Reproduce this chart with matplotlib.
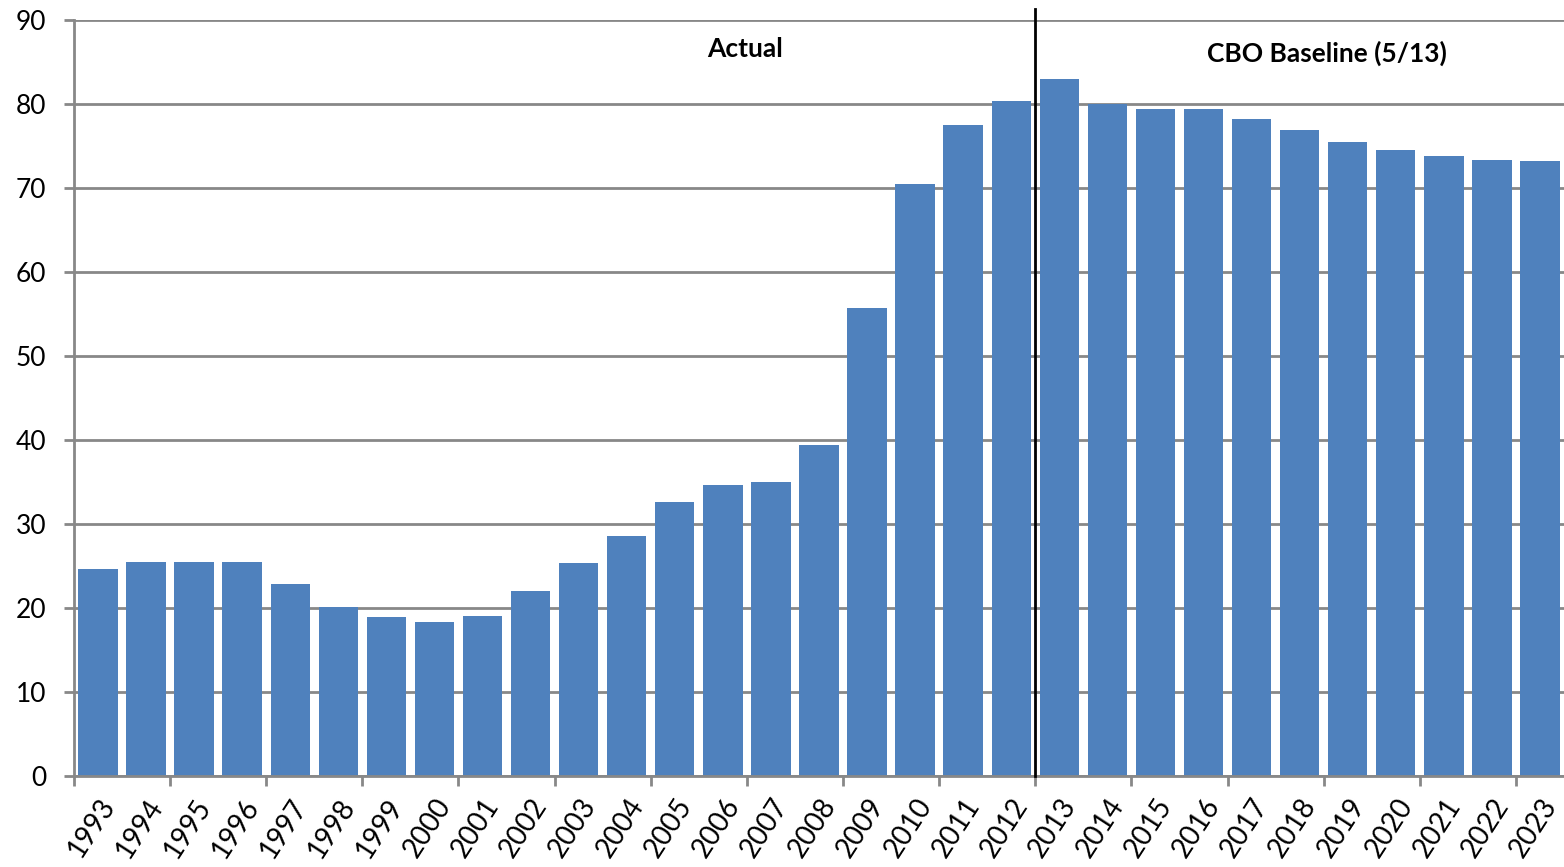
import numpy as np
import matplotlib
matplotlib.use("Agg")
import matplotlib.pyplot as plt

plt.rcParams['font.family'] = ['Lato', 'DejaVu Sans']

years = [str(y) for y in range(1993, 2024)]
values = [24.6, 25.5, 25.5, 25.5, 22.9, 20.1, 18.9, 18.3, 19.0, 22.0,
          25.4, 28.6, 32.6, 34.6, 35.0, 39.4, 55.7, 70.5, 77.5, 80.4,
          83.0, 80.0, 79.4, 79.4, 78.2, 76.9, 75.5, 74.5, 73.8, 73.3, 73.2]
yticks = [0, 10, 20, 30, 40, 50, 60, 70, 80, 90]
split_after = "2012"

grid_color = "#888888"
bar_color = "#4F81BD"

fig = plt.figure(figsize=(15.64, 8.67), dpi=100)
ax = fig.add_axes([0.0473, 0.105, 0.9527, 0.872])

x = np.arange(len(years))
ax.bar(x, values, width=0.82, color=bar_color, zorder=3)

ax.set_xlim(-0.5, len(years) - 0.5)
ax.set_ylim(0, 90)
ax.set_yticks(yticks)
ax.set_yticklabels([str(v) for v in yticks], fontsize=19)
ax.yaxis.grid(True, color=grid_color, linewidth=2, zorder=0)
ax.tick_params(axis='y', length=7, width=2, color=grid_color, pad=13)

# year labels at bar centres, tick marks on every second category boundary
ax.set_xticks(x)
ax.set_xticklabels(years, rotation=57, ha='right', va='top',
                   rotation_mode='anchor', fontsize=20)
ax.tick_params(axis='x', which='major', length=0, pad=13)
ax.set_xticks(np.arange(-0.5, len(years), 2), minor=True)
ax.tick_params(axis='x', which='minor', length=7, width=2, color=grid_color)

for side in ['top', 'right']:
    ax.spines[side].set_visible(False)
for side in ['left', 'bottom']:
    ax.spines[side].set_color(grid_color)
    ax.spines[side].set_linewidth(2)
ax.spines['bottom'].set_zorder(4)

# divider between actual and projected years
split_x = years.index(split_after) + 0.5
ax.plot([split_x, split_x], [0, 91.3], color='black', linewidth=2,
        clip_on=False, zorder=5)

ax.text(13.46, 86.5, "Actual", ha='center', va='center', fontsize=19,
        fontweight='bold')
ax.text(25.57, 86.0, "CBO Baseline (5/13)", ha='center', va='center',
        fontsize=19, fontweight='bold')

fig.savefig("out.png", dpi=100)
